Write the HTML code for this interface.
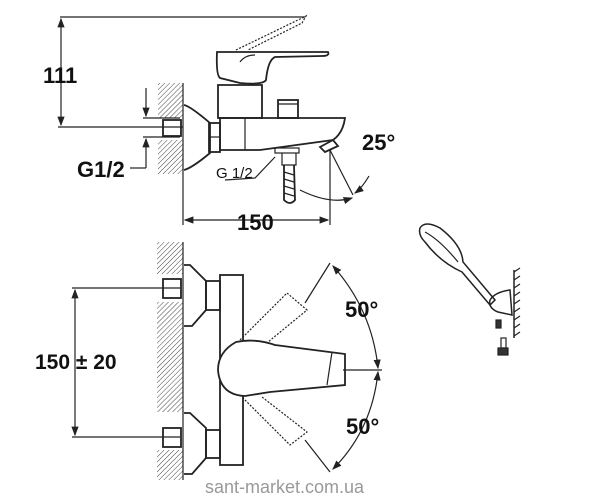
<!DOCTYPE html>
<html><head><style>body{margin:0;background:#fff}svg{display:block}</style></head><body>
<svg width="600" height="500" viewBox="0 0 600 500" xmlns="http://www.w3.org/2000/svg" font-family="Liberation Sans, sans-serif">
<defs>
<pattern id="h" width="3.5" height="3.5" patternUnits="userSpaceOnUse" patternTransform="rotate(45)"><line x1="0" y1="0" x2="0" y2="3.5" stroke="#444" stroke-width="1"/></pattern>
<marker id="a" markerWidth="8" markerHeight="8" refX="7" refY="4" orient="auto-start-reverse"><path d="M0,1 L8,4 L0,7z" fill="#222"/></marker>
</defs>
<g stroke="#222" fill="none" stroke-width="1.2">
<line x1="60" y1="17" x2="305" y2="17"/>
<line x1="61" y1="19" x2="61" y2="125" marker-start="url(#a)" marker-end="url(#a)"/>
<line x1="58" y1="127" x2="183" y2="127"/>
<rect x="158" y="83" width="25" height="35" fill="url(#h)" stroke="none"/>
<rect x="158" y="140" width="25" height="34" fill="url(#h)" stroke="none"/>
<line x1="183" y1="83" x2="183" y2="225"/>
<line x1="146" y1="88" x2="146" y2="116" marker-end="url(#a)"/>
<line x1="146" y1="139" x2="146" y2="168" marker-start="url(#a)"/>
<line x1="143" y1="118" x2="180" y2="118"/><line x1="143" y1="137" x2="180" y2="137"/>
<line x1="130" y1="168" x2="146" y2="168"/>
<rect x="163" y="120" width="18" height="16" stroke-width="1.8"/>
<path d="M184,105 Q190,106 210,123 L210,153 Q192,168 184,170" stroke-width="1.8"/>
<rect x="209" y="123" width="11" height="29" stroke-width="1.8"/>
<line x1="209" y1="137" x2="220" y2="137"/>
<path d="M220,118 L345,118 Q343,133 333,140 L260,150 L220,150z" stroke-width="1.8"/>
<line x1="245" y1="118" x2="245" y2="150"/>
<path d="M218,85 L262,85 L262,118 L218,118z" stroke-width="1.8"/>
<path d="M217,52 L328,52 Q330,56 322,56 L275,57 Q268,60 266,80 Q263,85 240,83 L220,78 Q216,75 217,52z" stroke-width="1.8"/>
<path d="M240,62 Q245,55 255,55" />
<path d="M236,50 L300,19 L306,16 L302,23 L248,50" stroke-dasharray="2,1.5"/>
<rect x="278" y="100" width="20" height="18" stroke-width="1.8"/><line x1="278" y1="104" x2="298" y2="104"/>
<rect x="275" y="148" width="24" height="5"/>
<path d="M282,153 L282,165 L296,165 L296,153"/>
<path d="M284,165 L284,200 Q290,206 295,200 L294,165" stroke-width="1.8"/>
<path d="M284,172 L294,175 M284,179 L294,182 M284,186 L294,189 M284,193 L294,196"/>
<path d="M320,147 L333,140 L338,146 L325,152z" stroke-width="1.8"/>
<line x1="330" y1="150" x2="330" y2="225"/>
<line x1="330" y1="150" x2="353" y2="195"/>
<path d="M300,190 Q330,205 352,198" marker-end="url(#a)"/>
<path d="M369,176 Q362,188 355,193" marker-end="url(#a)"/>
<line x1="185" y1="220" x2="328" y2="220" marker-start="url(#a)" marker-end="url(#a)"/>
<path d="M275,157 L255,178 L225,180"/>
<rect x="157" y="242" width="26" height="32" fill="url(#h)" stroke="none"/>
<rect x="157" y="302" width="26" height="110" fill="url(#h)" stroke="none"/>
<rect x="157" y="450" width="26" height="30" fill="url(#h)" stroke="none"/>
<line x1="183" y1="242" x2="183" y2="480"/>
<rect x="163" y="279" width="18" height="19" stroke-width="1.8"/>
<rect x="163" y="428" width="18" height="19" stroke-width="1.8"/>
<line x1="72" y1="288" x2="180" y2="288"/><line x1="72" y1="437" x2="180" y2="437"/>
<line x1="75" y1="290" x2="75" y2="435" marker-start="url(#a)" marker-end="url(#a)"/>
<path d="M184,265 L190,265 L206,281 L206,310 L192,326 L184,326" stroke-width="1.8"/>
<path d="M184,413 L190,413 L206,428 L206,458 L192,474 L184,474" stroke-width="1.8"/>
<rect x="206" y="281" width="14" height="29" stroke-width="1.8"/>
<rect x="206" y="430" width="14" height="28" stroke-width="1.8"/>
<rect x="220" y="275" width="23" height="190" stroke-width="1.8"/>
<path d="M240,340 L287,293 L307,310 L262,347" stroke-dasharray="2,1.5"/>
<path d="M240,395 L290,445 L307,432 L262,397" stroke-dasharray="2,1.5"/>
<path d="M236,342 Q218,352 218,370 Q220,395 245,396 L270,392 L345,385 L345,354 L275,345 Q255,338 236,342z" fill="#fff" stroke-width="1.8"/>
<path d="M332,352 L327,385" />
<line x1="343" y1="370" x2="382" y2="370"/>
<line x1="305" y1="303" x2="330" y2="263"/>
<line x1="305" y1="440" x2="330" y2="472"/>
<path d="M333,266 Q372,310 378,368" marker-start="url(#a)" marker-end="url(#a)"/>
<path d="M378,372 Q372,430 333,469" marker-start="url(#a)" marker-end="url(#a)"/>
<path d="M420,228 Q425,220 440,228 Q462,245 463,262 L495,300 L490,305 L462,272 Q440,262 425,242 Q418,235 420,228z" stroke-width="1.5"/>
<path d="M425,232 Q440,240 458,262"/>
<path d="M490,300 Q495,292 510,290 L512,315 L498,312 Q488,308 490,300z" stroke-width="1.5"/>
<line x1="514" y1="270" x2="514" y2="338" stroke-width="1.5"/>
<path d="M514,272 l6,-4 M514,280 l6,-4 M514,288 l6,-4 M514,296 l6,-4 M514,304 l6,-4 M514,312 l6,-4 M514,320 l6,-4 M514,328 l6,-4 M514,336 l6,-4"/>
<rect x="496" y="320" width="5" height="8" fill="#333"/>
<rect x="501" y="338" width="5" height="10"/><rect x="498" y="348" width="10" height="7" fill="#333"/>
</g>
<g fill="#111" font-weight="bold" font-size="22">
<text x="43" y="83">111</text>
<text x="77" y="177">G1/2</text>
<text x="216" y="178" font-size="15" font-weight="normal">G 1/2</text>
<text x="362" y="150">25°</text>
<text x="237" y="230">150</text>
<text x="35" y="369" font-size="21">150 ± 20</text>
<text x="345" y="317">50°</text>
<text x="346" y="434">50°</text>
</g>
<text x="205" y="493" font-size="18" fill="#999">sant-market.com.ua</text>
</svg>
</body></html>
